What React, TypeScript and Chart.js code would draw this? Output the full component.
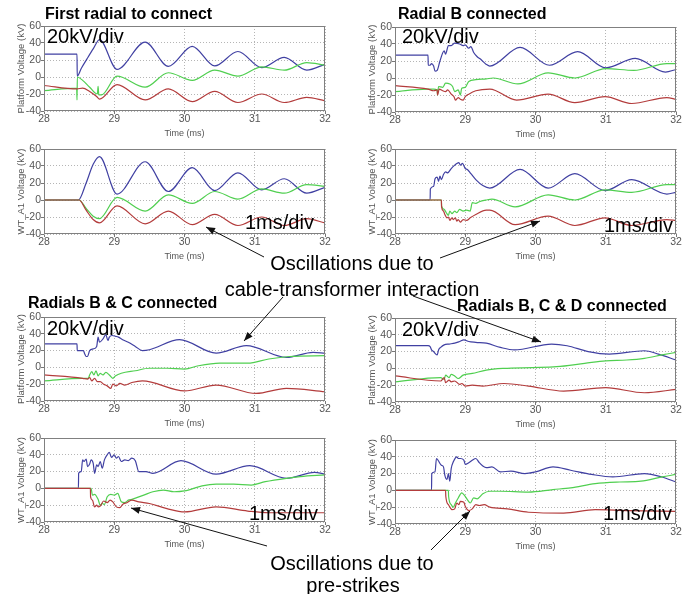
import React, { useEffect, useRef } from "react";
import { Chart, registerables } from "chart.js";

Chart.register(...registerables);

type Pt = [number, number];

// ---------- axis ticks / labels ----------
const timeTicks = [28, 29, 30, 31, 32];
const voltTicks = [-40, -20, 0, 20, 40, 60];
const platformTitle = "Platform Voltage (kV)";
const turbineTitle = "WT_A1 Voltage (kV)";
const timeTitle = "Time (ms)";

// ---------- First radial to connect : platform ----------
const aBlue: Pt[] = [[28,27],[28.47,27],[28.473,1],[28.53,10],[28.61,21],[28.7,33],[28.79,44],[29.04,9],[29.44,41],[29.77,12.5],[30.11,36],[30.43,13],[30.76,30],[31.1,11],[31.42,23],[31.74,8],[32,15]];
const aGreen: Pt[] = [[28,-16],[28.465,-13],[28.47,-27],[28.475,0],[28.55,-4],[28.65,-12],[28.76,-20],[28.77,-11],[28.78,-21],[28.82,-21],[29.04,1],[29.44,-12],[29.77,5],[30.11,-4],[30.43,8],[30.76,1],[31.1,12],[31.42,8],[31.74,17],[32,14]];
const aRed: Pt[] = [[28,-10],[28.47,-14],[28.55,-13],[28.65,-17],[28.75,-23],[28.79,-26],[29.04,-9],[29.44,-27],[29.77,-14],[30.11,-29],[30.43,-17],[30.76,-30],[31.1,-20],[31.42,-30],[31.74,-24],[32,-28]];

// ---------- First radial to connect : WT_A1 ----------
const bBlue: Pt[] = [[28,0],[28.49,0],[28.6,20],[28.7,42],[28.79,51],[29.04,7],[29.44,45],[29.77,10],[30.11,38],[30.43,11],[30.76,32],[31.1,12],[31.42,25],[31.74,8],[32,15]];
const bGreen: Pt[] = [[28,0],[28.5,0],[28.6,-10],[28.7,-19],[28.79,-22],[29.04,3],[29.44,-13],[29.77,6],[30.11,-4],[30.43,10],[30.76,1],[31.1,13],[31.42,8],[31.74,18],[32,16]];
const bRed: Pt[] = [[28,0],[28.5,0],[28.6,-12],[28.7,-23],[28.79,-27],[29.04,-7],[29.44,-28],[29.77,-13],[30.11,-29],[30.43,-17],[30.76,-30],[31.1,-20],[31.42,-30],[31.74,-22],[32,-27]];

// ---------- Radial B connected : platform ----------
const cBlue: Pt[] = [[28,27],[28.47,27],[28.473,15],[28.5,15],[28.52,17],[28.55,14],[28.57,8],[28.6,9],[28.64,20],[28.7,32],[28.72,28],[28.76,38],[28.8,38],[28.85,41],[28.92,40],[28.97,38],[29.0,39],[29.05,35],[29.08,37],[29.12,30],[29.17,25],[29.22,22],[29.3,16],[29.35,14],[29.78,36],[30.2,15],[30.6,31],[31.0,12],[31.42,23],[31.85,7],[32,10]];
const cGreen: Pt[] = [[28,-16],[28.45,-13],[28.55,-13],[28.6,-14],[28.605,-20],[28.62,-10],[28.68,-11],[28.72,-6],[28.78,-7],[28.82,-10],[28.85,-16],[28.9,-14],[28.93,-20],[28.95,-12],[29.0,-11],[29.05,-4],[29.15,-2],[29.3,-1],[29.4,0],[29.75,-7],[30.18,6],[30.56,0],[31.0,11],[31.4,9],[31.87,17],[32,17]];
const cRed: Pt[] = [[28,-9],[28.47,-13],[28.55,-15],[28.6,-14],[28.605,-20],[28.63,-13],[28.68,-15],[28.72,-16],[28.75,-14],[28.8,-19],[28.84,-22],[28.86,-26],[28.9,-23],[28.93,-25],[28.97,-26],[29.0,-22],[29.05,-19],[29.15,-15],[29.35,-13],[29.73,-26],[30.18,-19],[30.56,-29],[30.99,-22],[31.37,-30],[31.87,-23],[32,-25]];

// ---------- Radial B connected : WT_A1 ----------
const dBlue: Pt[] = [[28,0],[28.5,0],[28.503,13],[28.55,16],[28.57,25],[28.6,27],[28.62,22],[28.64,28],[28.66,24],[28.69,30],[28.72,33],[28.75,32],[28.8,37],[28.85,41],[28.88,43],[28.91,44],[28.93,41],[28.96,43],[29.0,37],[29.03,36],[29.08,31],[29.15,24],[29.25,17],[29.35,14],[29.78,36],[30.18,14],[30.56,31],[30.99,11],[31.37,24],[31.87,7],[32,9]];
const dGreen: Pt[] = [[28,0],[28.66,0],[28.663,-7],[28.7,-11],[28.73,-15],[28.76,-18],[28.78,-13],[28.81,-16],[28.85,-13],[28.88,-15],[28.92,-11],[28.97,-13],[29.02,-12],[29.07,-13],[29.1,-3],[29.15,-4],[29.2,-2],[29.3,0],[29.38,1],[29.71,-8],[30.18,6],[30.56,0],[30.99,12],[31.37,9],[31.87,18],[32,18]];
const dRed: Pt[] = [[28,0],[28.66,0],[28.663,-8],[28.69,-13],[28.71,-17],[28.74,-21],[28.76,-20],[28.78,-24],[28.81,-21],[28.83,-23],[28.86,-21],[28.88,-25],[28.9,-23],[28.93,-26],[28.97,-23],[29.02,-24],[29.07,-21],[29.15,-17],[29.3,-12],[29.35,-12],[29.71,-29],[30.18,-19],[30.56,-30],[30.99,-21],[31.37,-30],[31.87,-23],[32,-24]];

// ---------- Radials B & C connected : platform ----------
const eBlue: Pt[] = [[28,28],[28.47,28],[28.473,20],[28.56,20],[28.58,16],[28.6,13],[28.62,13],[28.65,20],[28.7,22],[28.75,25],[28.77,36],[28.79,30],[28.84,34],[28.88,39],[28.91,32],[28.93,36],[28.97,38],[29.02,37],[29.06,36],[29.12,33],[29.2,30],[29.3,25],[29.4,20],[29.5,21],[29.93,33],[30.45,17],[30.88,26],[31.45,12],[31.83,18],[32,17]];
const eGreen: Pt[] = [[28,-16],[28.55,-13],[28.63,-13],[28.65,-9],[28.68,-5],[28.71,-9],[28.74,-4],[28.77,-10],[28.8,-7],[28.84,-9],[28.88,-6],[28.93,-9],[28.98,-13],[29.02,-10],[29.1,-7],[29.3,-4],[29.5,-1],[29.75,-1],[30.0,-2],[30.2,2],[30.5,5],[30.9,5],[31.2,10],[31.5,13],[32,14]];
const eRed: Pt[] = [[28,-9],[28.55,-13],[28.62,-14],[28.65,-12],[28.68,-16],[28.72,-13],[28.76,-17],[28.8,-17],[28.85,-20],[28.9,-22],[28.95,-25],[28.98,-20],[29.03,-22],[29.08,-19],[29.15,-21],[29.25,-18],[29.4,-16],[30.0,-28],[30.45,-21],[31.02,-31],[31.45,-25],[32,-29]];

// ---------- Radials B, C & D connected : platform ----------
const fBlue: Pt[] = [[28,27],[28.47,27],[28.5,26],[28.52,22],[28.55,20],[28.58,17],[28.6,16],[28.62,22],[28.65,25],[28.7,28],[28.77,29],[28.85,30],[28.92,32],[28.98,34],[29.05,32],[29.15,31],[29.3,30],[29.5,25],[29.7,22],[30.23,29],[30.45,27],[30.75,20],[31.05,17],[31.55,21],[31.75,17],[32,10]];
const fGreen: Pt[] = [[28,-16],[28.65,-11],[28.7,-13],[28.72,-8],[28.77,-11],[28.8,-7],[28.85,-9],[28.9,-12],[28.97,-8],[29.1,-6],[29.3,-2],[29.55,0],[29.95,1],[30.3,2],[30.7,6],[31.0,9],[31.3,10],[31.55,12],[31.8,16],[32,19]];
const fRed: Pt[] = [[28,-9],[28.65,-15],[28.7,-11],[28.72,-17],[28.77,-14],[28.8,-16],[28.85,-15],[28.92,-19],[28.95,-18],[29.0,-21],[29.1,-20],[29.25,-21],[29.55,-18],[29.9,-21],[30.4,-27],[31.0,-23],[31.55,-29],[32,-25]];

// ---------- Radials B & C connected : WT_A1 ----------
const gBlue: Pt[] = [[28,0],[28.49,0],[28.493,18],[28.53,20],[28.55,34],[28.57,32],[28.6,35],[28.62,26],[28.65,29],[28.67,34],[28.7,30],[28.72,18],[28.75,28],[28.77,26],[28.8,32],[28.83,24],[28.86,34],[28.9,40],[28.93,43],[28.96,37],[29.0,40],[29.03,36],[29.06,38],[29.1,32],[29.15,34],[29.2,33],[29.25,36],[29.3,33],[29.35,20],[29.45,20],[29.55,18],[29.95,33],[30.45,17],[30.93,27],[31.45,12],[31.85,19],[32,17]];
const gGreen: Pt[] = [[28,0],[28.67,0],[28.69,-8],[28.72,-7],[28.77,-13],[28.8,-20],[28.83,-18],[28.86,-19],[28.9,-10],[28.95,-7],[29.0,-8],[29.05,-6],[29.1,-16],[29.15,-17],[29.2,-14],[29.25,-13],[29.32,-11],[29.42,-8],[29.55,-4],[29.7,-2],[29.85,-4],[30.0,-3],[30.25,3],[30.45,5],[30.7,5],[30.95,4],[31.15,8],[31.45,12],[31.65,14],[32,16]];
const gRed: Pt[] = [[28,0],[28.66,0],[28.663,-10],[28.69,-14],[28.72,-22],[28.75,-20],[28.77,-22],[28.8,-21],[28.85,-15],[28.9,-17],[28.94,-14],[28.98,-16],[29.03,-22],[29.08,-23],[29.12,-19],[29.18,-17],[29.25,-14],[29.35,-16],[29.5,-18],[29.75,-24],[30.0,-28],[30.45,-22],[30.9,-27],[31.2,-29],[31.6,-29],[32,-29]];

// ---------- Radials B, C & D connected : WT_A1 ----------
const hBlue: Pt[] = [[28,0],[28.52,0],[28.523,20],[28.57,22],[28.59,38],[28.62,35],[28.64,32],[28.66,30],[28.69,28],[28.71,18],[28.74,13],[28.76,20],[28.78,11],[28.8,26],[28.83,34],[28.88,40],[28.9,38],[28.93,38],[28.98,36],[29.0,31],[29.05,33],[29.1,36],[29.15,38],[29.2,33],[29.25,29],[29.3,27],[29.38,28],[29.5,22],[29.65,23],[29.85,20],[30.0,22],[30.25,28],[30.5,24],[30.8,19],[31.1,16],[31.55,20],[31.8,16],[32,10]];
const hGreen: Pt[] = [[28,0],[28.76,0],[28.763,-7],[28.8,-17],[28.83,-20],[28.86,-15],[28.9,-9],[28.95,-3],[28.98,-5],[29.03,-11],[29.07,-15],[29.12,-9],[29.17,-10],[29.25,-4],[29.35,-1],[29.5,-1],[29.9,-2],[30.25,1],[30.5,3],[30.85,8],[31.2,10],[31.5,11],[31.8,16],[32,19]];
const hRed: Pt[] = [[28,0],[28.72,0],[28.723,-7],[28.76,-17],[28.79,-21],[28.81,-23],[28.85,-22],[28.88,-15],[28.91,-17],[28.93,-13],[28.98,-14],[29.0,-19],[29.05,-24],[29.1,-22],[29.15,-17],[29.2,-18],[29.27,-17],[29.35,-20],[29.6,-22],[29.9,-26],[30.4,-27],[30.85,-23],[31.3,-24],[32,-25]];

// ---------- styling ----------
const BLUE = "#4040a2";
const GREEN = "#50cf50";
const RED = "#b33c3c";
const SANS = "'Liberation Sans', Arial, Helvetica, sans-serif";
const NARROW = "'Liberation Sans Narrow', 'Arial Narrow', 'Liberation Sans', sans-serif";

const Y_AXIS_W = 44;
const TOP_PAD = 8;
const RIGHT_PAD = 8;
const X_AXIS_H = 30;

type Box = [number, number, number, number];

const scopes: { box: Box; yTitle: string; blue: Pt[]; green: Pt[]; red: Pt[] }[] = [
  { box: [44, 26, 325, 111], yTitle: platformTitle, blue: aBlue, green: aGreen, red: aRed },
  { box: [44, 149, 325, 234], yTitle: turbineTitle, blue: bBlue, green: bGreen, red: bRed },
  { box: [395, 27, 676, 112], yTitle: platformTitle, blue: cBlue, green: cGreen, red: cRed },
  { box: [395, 149, 676, 234], yTitle: turbineTitle, blue: dBlue, green: dGreen, red: dRed },
  { box: [44, 317, 325, 401], yTitle: platformTitle, blue: eBlue, green: eGreen, red: eRed },
  { box: [395, 318, 676, 402], yTitle: platformTitle, blue: fBlue, green: fGreen, red: fRed },
  { box: [44, 438, 325, 522], yTitle: turbineTitle, blue: gBlue, green: gGreen, red: gRed },
  { box: [395, 440, 676, 524], yTitle: turbineTitle, blue: hBlue, green: hGreen, red: hRed },
];

const framePlugin = {
  id: "frame",
  afterDatasetsDraw(chart: any) {
    const { ctx, chartArea } = chart;
    const l = Math.round(chartArea.left) + 0.5;
    const t = Math.round(chartArea.top) + 0.5;
    const r = Math.round(chartArea.right) - 0.5;
    const b = Math.round(chartArea.bottom) - 0.5;
    ctx.save();
    ctx.strokeStyle = "#808080";
    ctx.lineWidth = 1;
    ctx.strokeRect(l, t, r - l, b - t);
    ctx.restore();
  },
};

function Scope(props: { box: Box; yTitle: string; blue: Pt[]; green: Pt[]; red: Pt[] }) {
  const ref = useRef<HTMLCanvasElement>(null);
  const [l, t, r, b] = props.box;
  const w = r - l + Y_AXIS_W + RIGHT_PAD;
  const h = b - t + TOP_PAD + X_AXIS_H;
  useEffect(() => {
    const mk = (pts: Pt[], color: string) => ({
      data: pts.map(([x, y]) => ({ x, y })),
      borderColor: color,
      borderWidth: 1.2,
      pointRadius: 0,
      fill: false,
      cubicInterpolationMode: "monotone" as const,
    });
    const gridCommon = {
      color: "#b5b5b5",
      lineWidth: 1,
      tickColor: "#777",
      tickLength: 3,
      tickBorderDash: [] as number[],
    };
    const chart = new Chart(ref.current as HTMLCanvasElement, {
      type: "line",
      data: { datasets: [mk(props.red, RED), mk(props.green, GREEN), mk(props.blue, BLUE)] as any },
      options: {
        animation: false,
        responsive: false,
        devicePixelRatio: 1,
        layout: { padding: { left: 0, right: RIGHT_PAD, top: TOP_PAD, bottom: 0 } },
        plugins: { legend: { display: false }, tooltip: { enabled: false } },
        scales: {
          x: {
            type: "linear",
            min: 28,
            max: 32,
            afterBuildTicks: (axis: any) => {
              axis.ticks = timeTicks.map((v) => ({ value: v }));
            },
            afterFit: (axis: any) => {
              axis.height = X_AXIS_H;
            },
            grid: gridCommon,
            border: { display: false, dash: [1, 2] },
            ticks: { color: "#555", font: { family: NARROW, size: 10.5 }, padding: -1, autoSkip: false, maxRotation: 0 },
            title: {
              display: true,
              text: timeTitle,
              color: "#555",
              font: { family: NARROW, size: 9 },
              padding: { top: 0, bottom: 2 },
            },
          },
          y: {
            type: "linear",
            min: -40,
            max: 60,
            afterBuildTicks: (axis: any) => {
              axis.ticks = voltTicks.map((v) => ({ value: v }));
            },
            afterFit: (axis: any) => {
              axis.width = Y_AXIS_W;
            },
            grid: gridCommon,
            border: { display: false, dash: [1, 2] },
            ticks: { color: "#555", font: { family: NARROW, size: 10.5 }, padding: 0, autoSkip: false },
            title: {
              display: true,
              text: props.yTitle,
              color: "#555",
              font: { family: NARROW, size: 9.5 },
              padding: { top: 16, bottom: 0 },
            },
          },
        },
      } as any,
      plugins: [framePlugin],
    });
    return () => chart.destroy();
  }, []);
  return (
    <canvas
      ref={ref}
      width={w}
      height={h}
      style={{ position: "absolute", left: l - Y_AXIS_W, top: t - TOP_PAD, width: w, height: h }}
    />
  );
}

// ---------- overlay texts and arrows (page positions) ----------
const panelTitles = [
  { text: "First radial to connect", x: 45, y: 13 },
  { text: "Radial B connected", x: 398, y: 13.5 },
  { text: "Radials B & C connected", x: 28, y: 302 },
  { text: "Radials B, C & D connected", x: 457, y: 305.5 },
];
const scaleNotes = [
  { text: "20kV/div", x: 47, y: 36 },
  { text: "20kV/div", x: 402, y: 36 },
  { text: "20kV/div", x: 47, y: 328 },
  { text: "20kV/div", x: 402, y: 328.5 },
  { text: "1ms/div", x: 245, y: 221.5 },
  { text: "1ms/div", x: 604, y: 225 },
  { text: "1ms/div", x: 249, y: 513 },
  { text: "1ms/div", x: 603, y: 513 },
];
const calloutLines = [
  { text: "Oscillations due to", cx: 352, y: 263 },
  { text: "cable-transformer interaction", cx: 352, y: 289 },
  { text: "Oscillations due to", cx: 352, y: 563 },
  { text: "pre-strikes", cx: 353, y: 585 },
];
const arrows: [number, number, number, number][] = [
  [264, 257, 206, 227],
  [440, 258, 540, 221],
  [283, 297, 244, 341],
  [413, 296, 541, 342],
  [267, 546, 131, 508],
  [431, 550, 470, 511],
];

function arrowHead(x1: number, y1: number, x2: number, y2: number) {
  const dx = x2 - x1;
  const dy = y2 - y1;
  const len = Math.hypot(dx, dy) || 1;
  const ux = dx / len;
  const uy = dy / len;
  const hl = 9;
  const hw = 3.5;
  const bx = x2 - ux * hl;
  const by = y2 - uy * hl;
  return `${x2},${y2} ${bx - uy * hw},${by + ux * hw} ${bx + uy * hw},${by - ux * hw}`;
}

export default function App() {
  return (
    <div style={{ position: "absolute", left: 0, top: 0, width: 690, height: 594, background: "#fff", overflow: "hidden" }}>
      {scopes.map((s, i) => (
        <Scope key={i} {...s} />
      ))}
      {panelTitles.map((p, i) => (
        <div
          key={"t" + i}
          style={{
            position: "absolute",
            left: p.x,
            top: p.y - 16 * 0.59,
            font: `bold 16px ${SANS}`,
            lineHeight: "19.2px",
            whiteSpace: "nowrap",
            color: "#000",
          }}
        >
          {p.text}
        </div>
      ))}
      {scaleNotes.map((p, i) => (
        <div
          key={"s" + i}
          style={{
            position: "absolute",
            left: p.x,
            top: p.y - 20 * 0.59,
            font: `20px ${SANS}`,
            lineHeight: "24px",
            whiteSpace: "nowrap",
            color: "#000",
          }}
        >
          {p.text}
        </div>
      ))}
      {calloutLines.map((p, i) => (
        <div
          key={"c" + i}
          style={{
            position: "absolute",
            left: p.cx - 200,
            width: 400,
            textAlign: "center",
            top: p.y - 20 * 0.59,
            font: `20px ${SANS}`,
            lineHeight: "24px",
            whiteSpace: "nowrap",
            color: "#000",
          }}
        >
          {p.text}
        </div>
      ))}
      <svg
        width={690}
        height={594}
        style={{ position: "absolute", left: 0, top: 0, pointerEvents: "none" }}
      >
        {arrows.map(([x1, y1, x2, y2], i) => (
          <g key={i}>
            <line x1={x1} y1={y1} x2={x2} y2={y2} stroke="#111" strokeWidth={1} />
            <polygon points={arrowHead(x1, y1, x2, y2)} fill="#111" />
          </g>
        ))}
      </svg>
    </div>
  );
}
